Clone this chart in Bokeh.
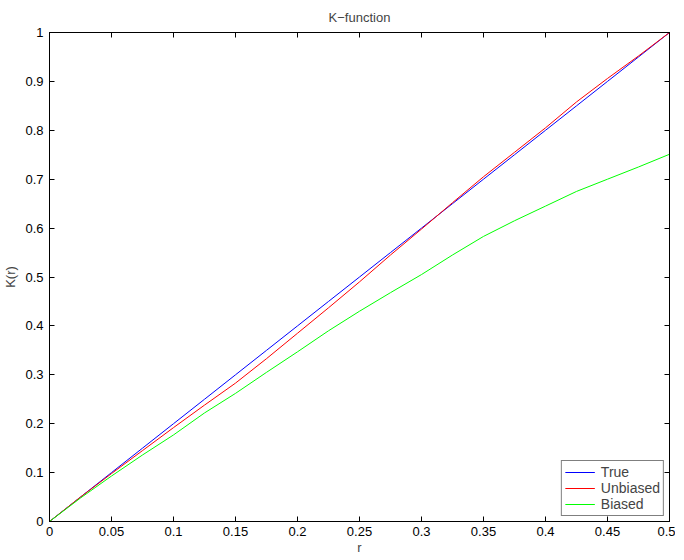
from bokeh.plotting import figure
from bokeh.models import LinearAxis, Range1d, FixedTicker, Legend, LegendItem
from bokeh.embed import file_html
from bokeh.resources import INLINE

r = [0, 0.025, 0.05, 0.075, 0.1, 0.125, 0.15, 0.175, 0.2, 0.225, 0.25, 0.275,
     0.3, 0.325, 0.35, 0.375, 0.4, 0.425, 0.45, 0.475, 0.5]
k_true = [0, 0.05, 0.1, 0.15, 0.2, 0.25, 0.3, 0.35, 0.4, 0.45, 0.5, 0.55,
          0.6, 0.65, 0.7, 0.75, 0.8, 0.85, 0.9, 0.95, 1.0]
k_unbiased = [0, 0.05, 0.098, 0.145, 0.192, 0.238, 0.283, 0.333, 0.385, 0.437, 0.49, 0.545,
              0.598, 0.652, 0.705, 0.755, 0.805, 0.858, 0.906, 0.952, 1.0]
k_biased = [0, 0.048, 0.093, 0.136, 0.177, 0.222, 0.262, 0.305, 0.347, 0.39, 0.43, 0.468,
            0.505, 0.545, 0.583, 0.615, 0.645, 0.675, 0.70, 0.725, 0.751]

x_ticks = [0, 0.05, 0.1, 0.15, 0.2, 0.25, 0.3, 0.35, 0.4, 0.45, 0.5]
x_labels = ["0", "0.05", "0.1", "0.15", "0.2", "0.25", "0.3", "0.35", "0.4", "0.45", "0.5"]
y_ticks = [0, 0.1, 0.2, 0.3, 0.4, 0.5, 0.6, 0.7, 0.8, 0.9, 1.0]
y_labels = ["0", "0.1", "0.2", "0.3", "0.4", "0.5", "0.6", "0.7", "0.8", "0.9", "1"]

FONT = "Liberation Sans"

p = figure(frame_width=620, frame_height=489, output_backend="svg", toolbar_location=None,
           x_range=Range1d(0, 0.5), y_range=Range1d(0, 1),
           title="K\u2212function", x_axis_label="r", y_axis_label="K(r)",
           min_border_left=40, min_border_right=6, min_border_bottom=30, min_border_top=32)

p.title.align = "center"
p.title.text_font = FONT
p.title.text_font_size = "13px"
p.title.text_font_style = "normal"
p.title.standoff = 15

p.xgrid.visible = False
p.ygrid.visible = False
p.outline_line_color = "black"
p.outline_line_alpha = 1.0

def style_axis(ax, ticks, labels, show_labels=True):
    ax.ticker = FixedTicker(ticks=ticks)
    ax.major_tick_in = 5
    ax.major_tick_out = 0
    ax.minor_tick_in = 0
    ax.minor_tick_out = 0
    ax.axis_line_color = "black"
    ax.major_tick_line_color = "black"
    ax.major_label_text_font = FONT
    ax.major_label_text_font_size = "13px"
    ax.major_label_text_color = "black"
    ax.axis_label_text_font = FONT
    ax.axis_label_text_font_size = "13px"
    ax.axis_label_text_font_style = "normal"
    if show_labels:
        ax.major_label_overrides = {t: l for t, l in zip(ticks, labels)}
    else:
        ax.major_label_overrides = {t: "" for t in ticks}
        ax.major_label_standoff = 0

style_axis(p.xaxis[0], x_ticks, x_labels)
style_axis(p.yaxis[0], y_ticks, y_labels)
p.xaxis[0].major_label_standoff = 5
p.xaxis[0].axis_label_standoff = 1
p.yaxis[0].major_label_standoff = 6
p.yaxis[0].axis_label_standoff = 4

top = LinearAxis()
style_axis(top, x_ticks, x_labels, show_labels=False)
right = LinearAxis()
style_axis(right, y_ticks, y_labels, show_labels=False)
p.add_layout(top, "above")
p.add_layout(right, "right")

l1 = p.line(r, k_true, line_color="#0000ff", line_width=1)
l2 = p.line(r, k_unbiased, line_color="#ff0000", line_width=1)
l3 = p.line(r, k_biased, line_color="#00ff00", line_width=1)

legend = Legend(items=[LegendItem(label="True", renderers=[l1]),
                       LegendItem(label="Unbiased", renderers=[l2]),
                       LegendItem(label="Biased", renderers=[l3])],
                location="bottom_right")
legend.label_text_font = FONT
legend.label_text_font_size = "14px"
legend.border_line_color = "black"
legend.border_line_width = 1
legend.background_fill_alpha = 1.0
legend.glyph_width = 30
legend.glyph_height = 16
legend.label_height = 16
legend.spacing = 0
legend.padding = 3
legend.margin = 5
legend.label_standoff = 6
p.add_layout(legend)

open("out.html", "w").write(file_html(p, INLINE))
